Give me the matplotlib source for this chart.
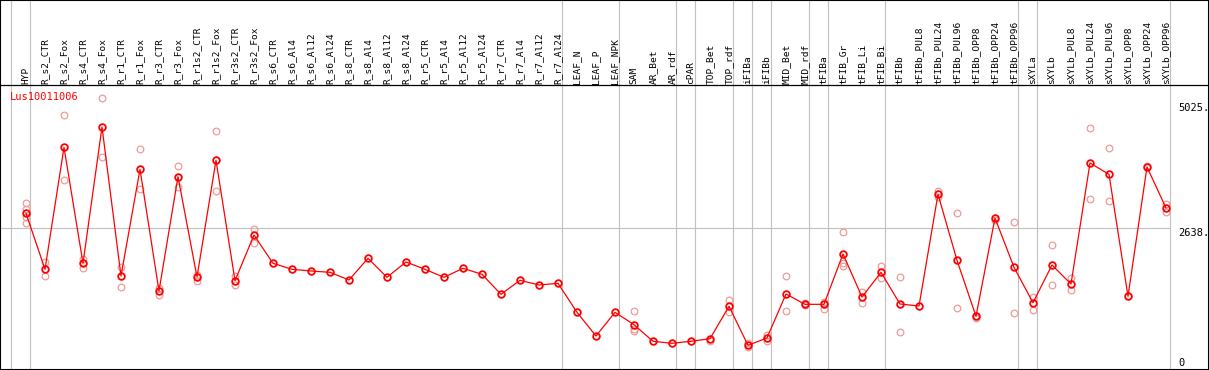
import matplotlib
matplotlib.use('Agg')
import matplotlib.pyplot as plt

# sample names, in chart order
samples = [
    'HYP',
    'R_s2_CTR', 'R_s2_Fox', 'R_s4_CTR', 'R_s4_Fox', 'R_r1_CTR', 'R_r1_Fox',
    'R_r3_CTR', 'R_r3_Fox', 'R_r1s2_CTR', 'R_r1s2_Fox', 'R_r3s2_CTR', 'R_r3s2_Fox',
    'R_s6_CTR', 'R_s6_Al4', 'R_s6_Al12', 'R_s6_Al24',
    'R_s8_CTR', 'R_s8_Al4', 'R_s8_Al12', 'R_s8_Al24',
    'R_r5_CTR', 'R_r5_Al4', 'R_r5_Al12', 'R_r5_Al24',
    'R_r7_CTR', 'R_r7_Al4', 'R_r7_Al12', 'R_r7_Al24',
    'LEAF_N', 'LEAF_P', 'LEAF_NPK',
    'SAM', 'AR_Bet', 'AR_rdf',
    'cPAR',
    'TOP_Bet', 'TOP_rdf',
    'iFIBa',
    'iFIBb',
    'MID_Bet', 'MID_rdf',
    'tFIBa',
    'tFIB_Gr', 'tFIB_Li', 'tFIB_Bi',
    'tFIBb', 'tFIBb_PUL8', 'tFIBb_PUL24', 'tFIBb_PUL96',
    'tFIBb_OPP8', 'tFIBb_OPP24', 'tFIBb_OPP96',
    'sXYLa',
    'sXYLb', 'sXYLb_PUL8', 'sXYLb_PUL24', 'sXYLb_PUL96',
    'sXYLb_OPP8', 'sXYLb_OPP24', 'sXYLb_OPP96',
]

# number of samples in each group (gray separators between groups)
group_sizes = [1, 28, 3, 3, 1, 2, 1, 1, 2, 1, 3, 7, 1, 7]

# mean expression per sample
mean_expr = [
    2923,
    1859, 4176, 1973, 4561, 1732, 3758,
    1447, 3618, 1713, 3929, 1643, 2510,
    1973, 1859, 1827, 1802,
    1656, 2068, 1707, 1998,
    1859, 1707, 1878, 1764,
    1384, 1650, 1561, 1593,
    1043, 592, 1043,
    807, 492, 454,
    492,
    541, 1156,
    416,
    555,
    1390, 1194,
    1194,
    2150, 1333, 1802,
    1200, 1162, 3283, 2030,
    967, 2833, 1897,
    1225,
    1941, 1580, 3878, 3663,
    1346, 3802, 3023,
]

# individual replicates (only those visible apart from the mean)
rep_expr = [
    [3112, 3004, 2852, 2733],
    [1992, 1738], [4789, 3555], [2055, 1878], [5106, 3986], [1909, 1517], [4138, 3390],
    [1498, 1371], [3815, 3416], [1745, 1637], [4480, 3352], [1732, 1561], [2624, 2364],
    [], [], [], [],
    [], [], [], [],
    [], [], [], [],
    [], [], [], [],
    [], [], [],
    [1067, 720, 693], [], [],
    [],
    [503], [1276, 1054],
    [465, 389],
    [611, 503],
    [1732, 1067], [1225, 1181],
    [1244, 1105],
    [2562, 1973, 1927], [1434, 1213], [1922, 1700],
    [1707, 663], [], [3352, 3238], [2923, 1119],
    [978, 940], [2795], [2752, 1024],
    [1339, 1086],
    [2321, 1561], [1688, 1466], [4542, 3188], [4157, 3156],
    [1358], [3821], [3099, 2942],
]

y_ticks = [0, 2638, 5025]
y_tick_labels = ['0', '2638.', '5025.']
gene = 'Lus10011006'

# pixel layout of the original image
W, H = 1209, 370
X0, DX = 26, 19          # pixel x of first sample, spacing
Y0, K = 367.2, 0.05266   # pixel y of zero, pixels per unit


def px_y(p):
    return (Y0 - p) / K


def px_x(p):
    return (p - X0) / DX


fig = plt.figure(figsize=(W / 100, H / 100), dpi=100)
ax = fig.add_axes([0, 0, 1, 1])
ax.set_xlim(px_x(0), px_x(W))
ax.set_ylim(px_y(H), px_y(0))
ax.set_xticks([])
ax.set_yticks([])
for s in ax.spines.values():
    s.set_color('black')
    s.set_linewidth(1.5)

mono = 'DejaVu Sans Mono'
grid_c = '#c0c0c0'

# group separators
starts = [0]
for g in group_sizes:
    starts.append(starts[-1] + g)
for s in starts:
    ax.axvline(s - 0.77, color=grid_c, lw=0.8, zorder=1)

# horizontal rule below the labels and gridline
ax.axhline(px_y(85), color='black', lw=0.9, zorder=2)
ax.hlines(2638, px_x(0), starts[-1] - 0.77, color=grid_c, lw=0.8, zorder=1)

# sample labels
for i, name in enumerate(samples):
    ax.text(i, px_y(83.5), name, rotation=90, ha='center', va='bottom',
            fontsize=6.8, family=mono, color='black')

xs = list(range(len(samples)))
rx, ry = [], []
for i, reps in enumerate(rep_expr):
    for v in reps:
        rx.append(i)
        ry.append(v)
ax.plot(rx, ry, ls='none', marker='o', ms=4.8, mfc='none', mec='#f09a9a',
        mew=0.9, zorder=3)

ax.plot(xs, mean_expr, color='#ff0000', lw=0.9, zorder=4)
ax.plot(xs, mean_expr, ls='none', marker='o', ms=4.8, mfc='none', mec='#ff0000',
        mew=1.3, zorder=5)

# value labels on the right
for v, lab in zip(y_ticks, y_tick_labels):
    if v == 0:
        ax.text(px_x(1178), px_y(366), lab, ha='left', va='baseline',
                fontsize=7.5, family=mono, color='black')
    else:
        ax.text(px_x(1178), v, lab, ha='left', va='top',
                fontsize=7.5, family=mono, color='black')

ax.text(px_x(10), px_y(97), gene, ha='left', va='center', fontsize=7.5,
        family=mono, color='#ff0000')

fig.savefig('out.png', dpi=100)
